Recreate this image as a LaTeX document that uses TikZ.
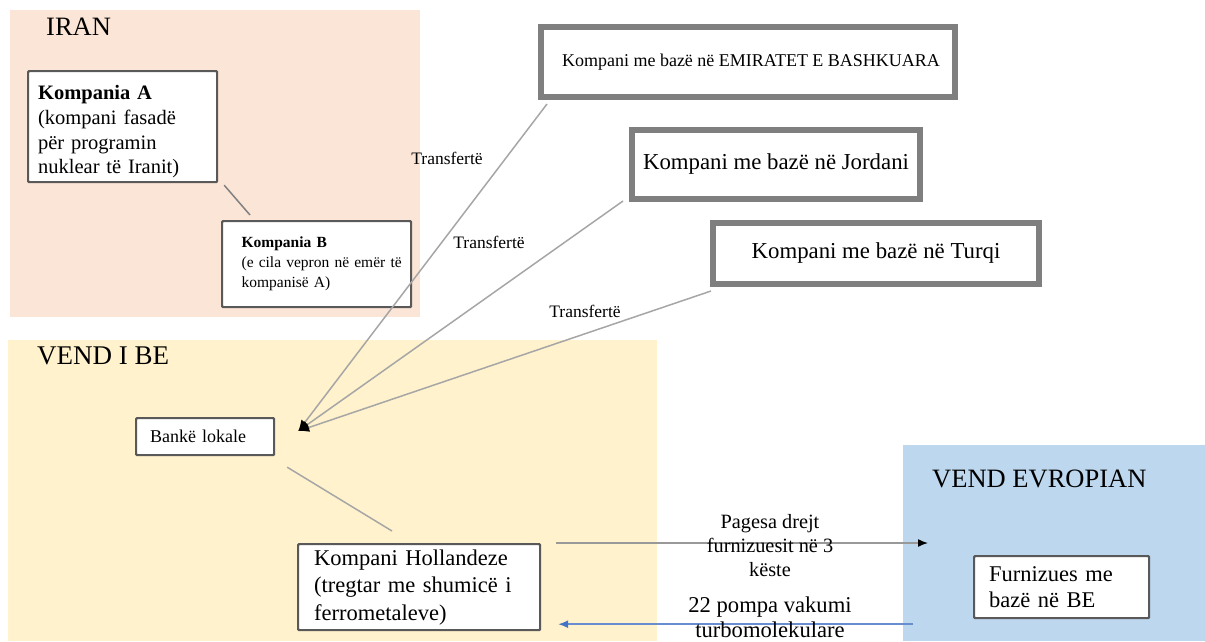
\documentclass[tikz,border=0pt]{standalone}
\usepackage{fontspec}
\setmainfont{Liberation Serif}
\usetikzlibrary{arrows.meta,calc}
\definecolor{peach}{HTML}{FBE5D6}
\definecolor{paleyel}{HTML}{FFF2CC}
\definecolor{paleblue}{HTML}{BDD7EE}
\definecolor{boxedge}{HTML}{595959}
\definecolor{thickedge}{HTML}{7F7F7F}
\definecolor{conn}{HTML}{A6A6A6}
\definecolor{bluearrow}{HTML}{4472C4}
\newcommand{\fs}[2]{\fontsize{#1}{#2}\selectfont}
\tikzset{
  sbox/.style={draw=boxedge, line width=2.2pt, fill=white, rounded corners=1pt, align=left, anchor=north west},
  cbox/.style={draw=thickedge, line width=6pt, fill=white, anchor=center, inner sep=0pt},
  conline/.style={draw=conn, line width=1.5pt},
  regionlbl/.style={anchor=base west, inner sep=0pt, font=\fs{26.5}{30}},
  translbl/.style={font=\fs{17.5}{20}, inner sep=0pt},
}
\begin{document}
\begin{tikzpicture}[x=1pt,y=-1pt]
\useasboundingbox (0,0) rectangle (1205,641);
% regions
\fill[peach] (10,10) rectangle (420,317);
\fill[paleyel] (8,340) rectangle (657,641);
\fill[paleblue] (903,445) rectangle (1205,641);
\node[regionlbl] (liran) at (46,35) {IRAN};
\node[regionlbl, font=\fs{27}{30}] (lbe) at (37,364) {VEND I BE};
\node[regionlbl] (leu) at (932,487) {VEND EVROPIAN};

% Iran boxes
\node[sbox, minimum width=189, minimum height=111, text width=169, inner xsep=10, font=\fs{20.5}{24.7}] (kA) at (27,70)
  {\rule{0pt}{25pt}\textbf{Kompania A}\\(kompani fasadë\\për programin\\nuklear të Iranit)};
\node[sbox, minimum width=189, minimum height=86, text width=178, inner xsep=5.5, font=\fs{15.5}{20}] (kB) at (221,220)
  {\hspace*{14pt}\textbf{Kompania B}\\\hspace*{14pt}(e cila vepron në emër të\\\hspace*{14pt}kompanisë A)};

% foreign companies
\node[cbox, minimum width=414, minimum height=70, font=\fs{18}{20}] (emir) at (748,62) {\hspace*{6pt}Kompani me bazë në EMIRATET E BASHKUARA};
\node[cbox, minimum width=288, minimum height=69, font=\fs{22.8}{26}] (jord) at (776,164.5) {Kompani me bazë në Jordani};
\node[cbox, minimum width=326, minimum height=61, font=\fs{22.8}{26}] (turk) at (876,253.5) {Kompani me bazë në Turqi};

% EU boxes
\node[sbox, minimum width=138, minimum height=37, text width=110, inner xsep=14, font=\fs{18}{20}] (bank) at (135,417) {Bankë lokale};
\node[sbox, minimum width=242, minimum height=86, text width=210, inner xsep=16, font=\fs{22.5}{27.5}] (kH) at (297,543)
  {Kompani Hollandeze\\(tregtar me shumicë i\\ferrometaleve)};
\node[sbox, minimum width=175, minimum height=62, text width=145, inner xsep=15, font=\fs{22.5}{26}] (furn) at (973,555)
  {Furnizues me\\bazë në BE};

% connectors
\draw[conline, draw=gray] ($(kA.south east)+(6,2)$) -- ($(kB.north west)+(29,-5)$);
\coordinate (tip) at ($(bank.east)+(23,-5.5)$);
\draw[conline, -{Latex[length=11pt,width=9pt,color=black]}] ($(emir.south west)+(9,4)$) -- (tip);
\draw[conline, -{Latex[length=11pt,width=9pt,color=black]}] ($(jord.south west)+(-6,-1)$) -- (tip);
\draw[conline, -{Latex[length=11pt,width=9pt,color=black]}] ($(turk.south west)+(1,4)$) -- (tip);
\draw[conline] ($(bank.south east)+(12,11)$) -- ($(kH.north west)+(95,-12)$);
\draw[line width=1.5pt, draw=gray!80, -{Latex[length=10pt,width=8pt,color=black]}] ($(kH.north east)+(15,0)$) -- ($(furn.north west)+(-45,-12)$);
\draw[line width=1.5pt, draw=bluearrow!80, -{Latex[length=10pt,width=8pt,color=bluearrow]}] ($(furn.south west)+(-60,5)$) -- ($(kH.south east)+(17,-7)$);

% labels
\node[translbl] (t1) at (447,158) {Transfertë};
\node[translbl] (t2) at (489,242) {Transfertë};
\node[translbl] (t3) at (585,311) {Transfertë};
\node[align=center, inner sep=0pt, font=\fs{20.3}{24}] (pay) at (770,546) {Pagesa drejt\\furnizuesit në 3\\këste};
\node[align=center, inner sep=0pt, font=\fs{22.6}{25}] (pumps) at (770,617) {22 pompa vakumi\\turbomolekulare};
\end{tikzpicture}
\end{document}
